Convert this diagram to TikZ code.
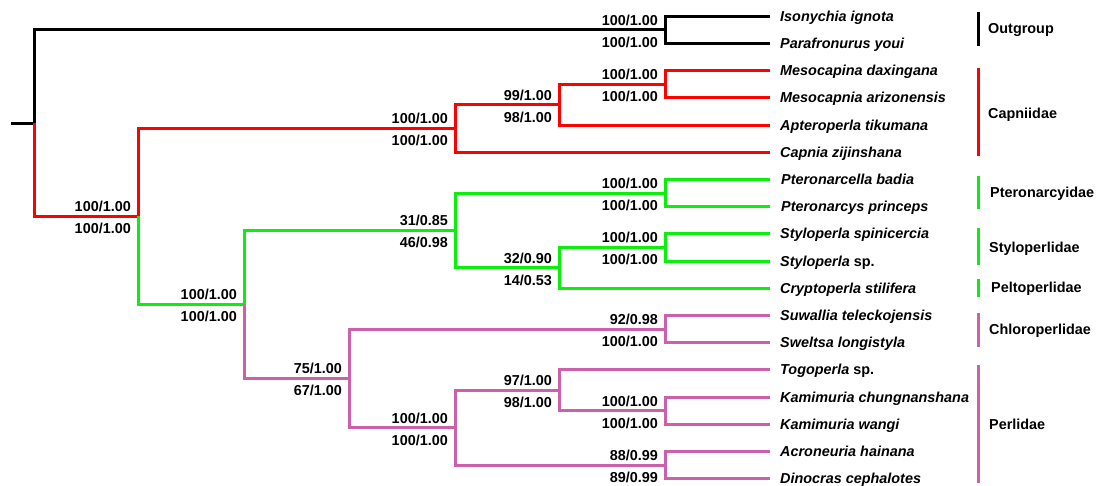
\documentclass[tikz,border=0pt]{standalone}
\usepackage{fontspec}
\setmainfont{Liberation Sans}
\definecolor{cred}{RGB}{255,0,0}
\definecolor{cgreen}{RGB}{10,240,10}
\definecolor{cpurple}{RGB}{204,96,170}
\newcommand\bslab[3]{%
  \node[supp] (u#1) at ([xshift=-7pt,yshift=4.5pt]#1) {#2};
  \node[supp] (d#1) at ([xshift=-7pt,yshift=-17.5pt]#1) {#3};}
\begin{document}
\begin{tikzpicture}[x=1pt,y=-1pt,
  br/.style={line width=3pt},
  txt/.style={font=\fontsize{14.4}{16}\selectfont\bfseries, inner sep=0pt},
  supp/.style={txt, anchor=base east},
  taxon/.style={txt, anchor=base west, font=\fontsize{14.4}{16}\selectfont\bfseries\itshape},
  fam/.style={txt, anchor=base west},
  famline/.style={line width=3pt}]
\useasboundingbox (0,0) rectangle (1096,486);
% leaves
\coordinate (L0) at (770,16.3);
\coordinate (L1) at (770,43.5);
\coordinate (L2) at (770,70.7);
\coordinate (L3) at (770,97.9);
\coordinate (L4) at (770,125.1);
\coordinate (L5) at (770,152.3);
\coordinate (L6) at (770,179.5);
\coordinate (L7) at (770,206.7);
\coordinate (L8) at (770,233.9);
\coordinate (L9) at (770,261.1);
\coordinate (L10) at (770,288.3);
\coordinate (L11) at (770,315.5);
\coordinate (L12) at (770,342.7);
\coordinate (L13) at (770,369.9);
\coordinate (L14) at (770,397.1);
\coordinate (L15) at (770,424.3);
\coordinate (L16) at (770,451.5);
\coordinate (L17) at (770,478.7);
% internal nodes
\coordinate (nout) at (665,29.9);
\coordinate (nmes) at (665,84.3);
\coordinate (ncapb) at (559,104.7);
\coordinate (ncap) at (455,128.5);
\coordinate (npte) at (665,193.1);
\coordinate (nsty) at (665,247.5);
\coordinate (nstyb) at (559,267.9);
\coordinate (ngrn) at (455,230.5);
\coordinate (nchl) at (665,329.1);
\coordinate (nkam) at (665,410.7);
\coordinate (ntog) at (559,390.3);
\coordinate (nacr) at (665,465.1);
\coordinate (nper) at (455,427.7);
\coordinate (npur) at (349,378.4);
\coordinate (nB) at (244,304.45);
\coordinate (nA) at (138,216.5);
\coordinate (root) at (34,123.2);
\coordinate (stub) at (11,123.2);
% black
\draw[br,black] (stub) -- (root);
\draw[br,black] (root) |- (nout);
\draw[br,black] (nout) |- (L0);
\draw[br,black] (nout) |- (L1);
% red
\draw[br,cred] (root) |- (nA);
\draw[br,cred] (nA) |- (ncap);
\draw[br,cred] (ncap) |- (ncapb);
\draw[br,cred] (ncap) |- (L5);
\draw[br,cred] (ncapb) |- (nmes);
\draw[br,cred] (ncapb) |- (L4);
\draw[br,cred] (nmes) |- (L2);
\draw[br,cred] (nmes) |- (L3);
% green
\draw[br,cgreen] (nA) |- (nB);
\draw[br,cgreen] (nB) |- (ngrn);
\draw[br,cgreen] (ngrn) |- (npte);
\draw[br,cgreen] (ngrn) |- (nstyb);
\draw[br,cgreen] (npte) |- (L6);
\draw[br,cgreen] (npte) |- (L7);
\draw[br,cgreen] (nstyb) |- (nsty);
\draw[br,cgreen] (nstyb) |- (L10);
\draw[br,cgreen] (nsty) |- (L8);
\draw[br,cgreen] (nsty) |- (L9);
% purple
\draw[br,cpurple] (nB) |- (npur);
\draw[br,cpurple] (npur) |- (nchl);
\draw[br,cpurple] (npur) |- (nper);
\draw[br,cpurple] (nchl) |- (L11);
\draw[br,cpurple] (nchl) |- (L12);
\draw[br,cpurple] (nper) |- (ntog);
\draw[br,cpurple] (nper) |- (nacr);
\draw[br,cpurple] (ntog) |- (L13);
\draw[br,cpurple] (ntog) |- (nkam);
\draw[br,cpurple] (nkam) |- (L14);
\draw[br,cpurple] (nkam) |- (L15);
\draw[br,cpurple] (nacr) |- (L16);
\draw[br,cpurple] (nacr) |- (L17);
% support values
\bslab{nout}{100/1.00}{100/1.00}
\bslab{nA}{100/1.00}{100/1.00}
\bslab{ncap}{100/1.00}{100/1.00}
\bslab{ncapb}{99/1.00}{98/1.00}
\bslab{nmes}{100/1.00}{100/1.00}
\bslab{nB}{100/1.00}{100/1.00}
\bslab{ngrn}{31/0.85}{46/0.98}
\bslab{npte}{100/1.00}{100/1.00}
\bslab{nstyb}{32/0.90}{14/0.53}
\bslab{nsty}{100/1.00}{100/1.00}
\bslab{npur}{75/1.00}{67/1.00}
\bslab{nchl}{92/0.98}{100/1.00}
\bslab{nper}{100/1.00}{100/1.00}
\bslab{ntog}{97/1.00}{98/1.00}
\bslab{nkam}{100/1.00}{100/1.00}
\bslab{nacr}{88/0.99}{89/0.99}
% taxa
\node[taxon] (t0) at ([xshift=10pt,yshift=-5pt]L0) {Isonychia ignota};
\node[taxon] (t1) at ([xshift=10pt,yshift=-5pt]L1) {Parafronurus youi};
\node[taxon] (t2) at ([xshift=10pt,yshift=-5pt]L2) {Mesocapina daxingana};
\node[taxon] (t3) at ([xshift=10pt,yshift=-5pt]L3) {Mesocapnia arizonensis};
\node[taxon] (t4) at ([xshift=10pt,yshift=-5pt]L4) {Apteroperla tikumana};
\node[taxon] (t5) at ([xshift=10pt,yshift=-5pt]L5) {Capnia zijinshana};
\node[taxon] (t6) at ([xshift=11pt,yshift=-5pt]L6) {Pteronarcella badia};
\node[taxon] (t7) at ([xshift=11pt,yshift=-5pt]L7) {Pteronarcys princeps};
\node[taxon] (t8) at ([xshift=10pt,yshift=-5pt]L8) {Styloperla spinicercia};
\node[taxon] (t9) at ([xshift=10pt,yshift=-5pt]L9) {Styloperla\upshape{} sp.};
\node[taxon] (t10) at ([xshift=10pt,yshift=-5pt]L10) {Cryptoperla stilifera};
\node[taxon] (t11) at ([xshift=10pt,yshift=-5pt]L11) {Suwallia teleckojensis};
\node[taxon] (t12) at ([xshift=10pt,yshift=-5pt]L12) {Sweltsa longistyla};
\node[taxon] (t13) at ([xshift=10pt,yshift=-5pt]L13) {Togoperla\upshape{} sp.};
\node[taxon] (t14) at ([xshift=10pt,yshift=-5pt]L14) {Kamimuria chungnanshana};
\node[taxon] (t15) at ([xshift=10pt,yshift=-5pt]L15) {Kamimuria wangi};
\node[taxon] (t16) at ([xshift=10pt,yshift=-5pt]L16) {Acroneuria hainana};
\node[taxon] (t17) at ([xshift=10pt,yshift=-5pt]L17) {Dinocras cephalotes};
% family bars
\coordinate (f1a) at (978,11.7);  \coordinate (f1b) at (978,46);
\coordinate (f2a) at (978,67.7);  \coordinate (f2b) at (978,156);
\coordinate (f3a) at (978,176);   \coordinate (f3b) at (978,209);
\coordinate (f4a) at (978,227.7); \coordinate (f4b) at (978,265);
\coordinate (f5a) at (978,279);   \coordinate (f5b) at (978,296.7);
\coordinate (f6a) at (978,313);   \coordinate (f6b) at (978,346.7);
\coordinate (f7a) at (978,365);   \coordinate (f7b) at (978,483);
\draw[famline,black] (f1a) -- (f1b);
\draw[famline,cred] (f2a) -- (f2b);
\draw[famline,cgreen] (f3a) -- (f3b);
\draw[famline,cgreen] (f4a) -- (f4b);
\draw[famline,cgreen] (f5a) -- (f5b);
\draw[famline,cpurple] (f6a) -- (f6b);
\draw[famline,cpurple] (f7a) -- (f7b);
\node[fam] (g1) at (988,33.3) {Outgroup};
\node[fam] (g2) at (988,119) {Capniidae};
\node[fam] (g3) at (990,198) {Pteronarcyidae};
\node[fam] (g4) at (989,253) {Styloperlidae};
\node[fam] (g5) at (991,293) {Peltoperlidae};
\node[fam] (g6) at (989,335) {Chloroperlidae};
\node[fam] (g7) at (989,430) {Perlidae};
\end{tikzpicture}
\end{document}
